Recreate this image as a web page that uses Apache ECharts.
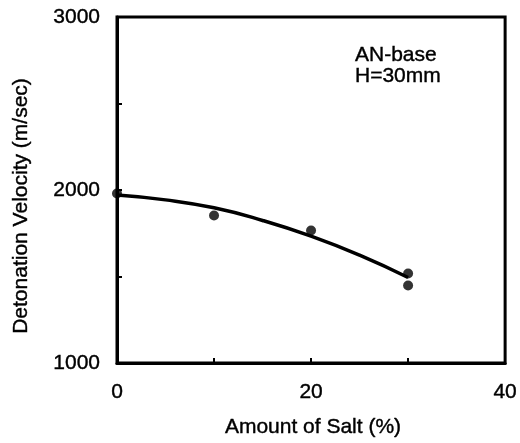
<!DOCTYPE html>
<html><head><meta charset="utf-8">
<script src="https://cdn.jsdelivr.net/npm/echarts@6/dist/echarts.min.js"></script>
<style>html,body{margin:0;padding:0;background:#fff}#c{width:520px;height:443px}</style>
</head><body><div id="c"></div>
<script>
// Measured points (salt %, detonation velocity m/s)
const saltPts = [0, 10, 20, 30, 30];
const velPts = [1980, 1853, 1766, 1517, 1448];
// Fitted curve
const saltCurve = [0, 5, 10, 15, 20, 25, 30];
const velCurve = [1971, 1943, 1897, 1824, 1733, 1623, 1494];
const xTicks = [0, 20, 40];
const yTicks = [1000, 2000, 3000];

const font = 'Liberation Sans, Arial, sans-serif';
const thick = {textBorderColor: '#000', textBorderWidth: 0.4};
const chart = echarts.init(document.getElementById('c'));
chart.setOption({
  animation: false,
  grid: {left: 117, right: 13, top: 17, bottom: 80, show: true, borderColor: '#000', borderWidth: 3},
  xAxis: {
    type: 'value', min: 0, max: 40, interval: 10,
    axisLine: {show: true, lineStyle: {color: '#000', width: 3}},
    axisTick: {show: true, inside: true, length: 5, lineStyle: {color: '#000', width: 2}},
    axisLabel: Object.assign({fontFamily: font, fontSize: 21, color: '#000', margin: 19,
      formatter: v => xTicks.includes(v) ? String(v) : ''}, thick),
    splitLine: {show: false}
  },
  yAxis: {
    type: 'value', min: 1000, max: 3000, interval: 500,
    axisLine: {show: true, lineStyle: {color: '#000', width: 3}},
    axisTick: {show: true, inside: true, length: 5, lineStyle: {color: '#000', width: 2}},
    axisLabel: Object.assign({fontFamily: font, fontSize: 21, color: '#000', margin: 17,
      formatter: v => yTicks.includes(v) ? String(v) : ''}, thick),
    splitLine: {show: false}
  },
  graphic: [
    {type: 'text', x: 355, y: 45,
     style: {text: 'AN-base\nH=30mm', fontFamily: font, fontSize: 21, lineHeight: 21, fill: '#000',
       stroke: '#000', lineWidth: 0.4}},
    {type: 'text', x: 313, y: 427,
     style: {text: 'Amount of Salt (%)', fontFamily: font, fontSize: 21, fill: '#000',
       align: 'center', verticalAlign: 'middle', stroke: '#000', lineWidth: 0.4}},
    {type: 'text', x: 21, y: 206, rotation: Math.PI / 2,
     style: {text: 'Detonation Velocity (m/sec)', fontFamily: font, fontSize: 21, fill: '#000',
       align: 'center', verticalAlign: 'middle', stroke: '#000', lineWidth: 0.4}}
  ],
  series: [
    {type: 'line', data: saltCurve.map((x, i) => [x, velCurve[i]]), smooth: true, showSymbol: false,
     lineStyle: {color: '#000', width: 3.5}, z: 2},
    {type: 'scatter', data: saltPts.map((x, i) => [x, velPts[i]]), symbolSize: 10,
     itemStyle: {color: '#000'}, z: 3}
  ]
});
</script></body></html>
